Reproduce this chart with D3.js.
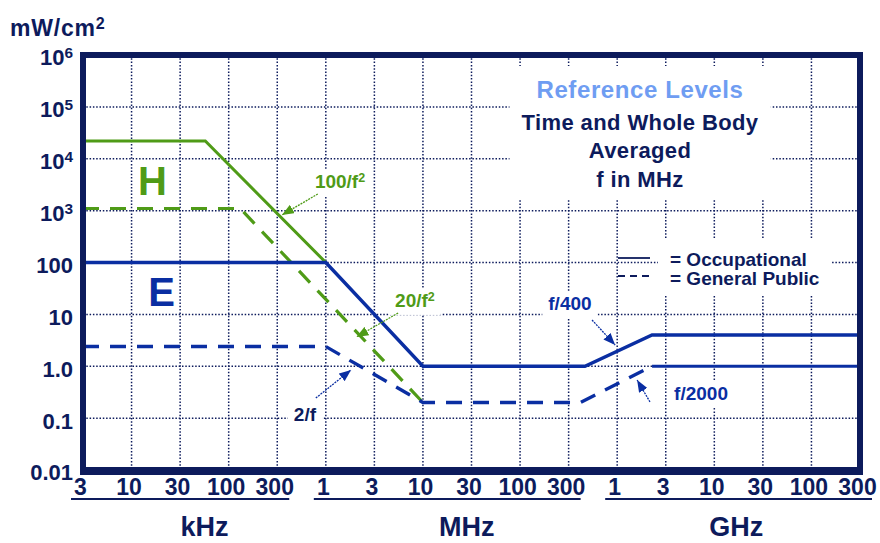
<!DOCTYPE html>
<html>
<head>
<meta charset="utf-8">
<script src="https://cdn.jsdelivr.net/npm/d3@7"></script>
<style>
  body { margin: 0; background: #fff; }
  svg { display: block; font-family: 'Liberation Sans', Arial, sans-serif; font-weight: bold; }
</style>
</head>
<body>
<div class="canvas"></div>
<script>
// printed frequency ticks (Hz) and their labels
const tickHz = [3e3, 1e4, 3e4, 1e5, 3e5, 1e6, 3e6, 1e7, 3e7, 1e8, 3e8, 1e9, 3e9, 1e10, 3e10, 1e11, 3e11];
const tickLabels = ['3', '10', '30', '100', '300', '1', '3', '10', '30', '100', '300', '1', '3', '10', '30', '100', '300'];
const groupNames = ['kHz', 'MHz', 'GHz'];
const groupFirst = [0, 5, 11];
const groupLast = [4, 10, 16];

// power density ticks (mW/cm2)
const yTicks = [0.01, 0.1, 1, 10, 100, 1e3, 1e4, 1e5, 1e6];
const yLabelBase = ['0.01', '0.1', '1.0', '10', '100', '10', '10', '10', '10'];
const yLabelSup = ['', '', '', '', '', '3', '4', '5', '6'];

// H field: occupational (solid) and general public (dashed)
const hOccHz = [3e3, 5.6e4, 1e6];
const hOccVal = [2.2e4, 2.2e4, 100];
const hPubHz = [3e3, 1.3e5, 1e7];
const hPubVal = [1.1e3, 1.1e3, 0.2];

// E field: occupational (solid) and general public (dashed, solid tail)
const eOccHz = [3e3, 1e6, 1e7, 4.5e8, 2.2e9, 3e11];
const eOccVal = [100, 100, 1, 1, 4, 4];
const ePubHz = [3e3, 1e6, 1e7, 4e8, 2.2e9];
const ePubVal = [2.4, 2.4, 0.2, 0.2, 1];
const ePubTailHz = [2.2e9, 3e11];
const ePubTailVal = [1, 1];

const navy = '#0d1b5c', blue = '#0a2ea2', green = '#4f9b17', sky = '#6f9df2';

const svg = d3.select('.canvas')
    .append('svg')
    .attr('width', 880)
    .attr('height', 543);

const margin = { top: 55, right: 20, bottom: 73, left: 83 };
const graphWidth = 880 - margin.left - margin.right;
const graphHeight = 543 - margin.top - margin.bottom;

const graph = svg.append('g')
    .attr('transform', `translate(${margin.left},${margin.top})`);

// ticks are spaced evenly, log inside each step
const xStep = d3.scaleLinear()
    .domain(tickHz.map(Math.log10))
    .range(tickHz.map((d, i) => i * graphWidth / (tickHz.length - 1)));
const x = f => xStep(Math.log10(f));
const y = d3.scaleLog()
    .domain([0.01, 1e6])
    .range([graphHeight, 0]);

const supText = (sel, base, sup, size = '0.66em') => {
    sel.text(null);
    sel.append('tspan').text(base);
    if (sup) sel.append('tspan').attr('dy', '-0.45em').attr('font-size', size).text(sup);
};

// grid
const gridLayer = graph.append('g');
gridLayer.selectAll('.vgrid')
    .data(tickHz.slice(1, -1))
    .enter().append('line')
    .attr('x1', d => x(d)).attr('x2', d => x(d))
    .attr('y1', 0).attr('y2', graphHeight);
gridLayer.selectAll('.hgrid')
    .data(yTicks.slice(1, -1))
    .enter().append('line')
    .attr('x1', 0).attr('x2', graphWidth)
    .attr('y1', d => y(d)).attr('y2', d => y(d));
gridLayer.selectAll('line')
    .attr('stroke', navy)
    .attr('stroke-width', 1.5)
    .attr('stroke-dasharray', '1.5,1.8');

const maskLayer = graph.append('g');
const lineLayer = graph.append('g');
const noteLayer = graph.append('g');

const addMask = (node, padX, padTop, padBottom) => {
    const b = node.getBBox();
    maskLayer.append('rect')
        .attr('x', b.x - padX).attr('y', b.y - padTop)
        .attr('width', b.width + 2 * padX).attr('height', b.height + padTop + padBottom)
        .attr('fill', '#fff');
};

// title block
const title = noteLayer.append('g').attr('text-anchor', 'middle');
title.append('text').attr('x', 557).attr('y', 43)
    .attr('font-size', 24).attr('fill', sky).attr('letter-spacing', 0.6)
    .text('Reference Levels');
[['Time and Whole Body', 75], ['Averaged', 103], ['f in MHz', 132]].forEach(([t, ty]) => {
    title.append('text').attr('x', 557).attr('y', ty)
        .attr('font-size', 22).attr('fill', navy).attr('letter-spacing', 0.4)
        .text(t);
});
addMask(title.node(), 12, 10, 8);

// legend
const legend = noteLayer.append('g');
legend.append('line').attr('x1', 535).attr('x2', 567).attr('y1', 203).attr('y2', 203)
    .attr('stroke', navy).attr('stroke-width', 1.8);
legend.append('line').attr('x1', 535).attr('x2', 567).attr('y1', 221).attr('y2', 221)
    .attr('stroke', navy).attr('stroke-width', 1.8).attr('stroke-dasharray', '7,5');
const legendText = legend.append('g').attr('font-size', 19).attr('fill', navy);
legendText.append('text').attr('x', 587).attr('y', 211).text('= Occupational');
legendText.append('text').attr('x', 587).attr('y', 230).text('= General Public');
addMask(legendText.node(), 12, 10, 6);

// limit lines
const line = d3.line().x(d => x(d[0])).y(d => y(d[1]));
const drawLine = (hz, val, colour, width, dash) => {
    lineLayer.append('path')
        .datum(d3.zip(hz, val))
        .attr('d', line)
        .attr('fill', 'none')
        .attr('stroke', colour)
        .attr('stroke-width', width)
        .attr('stroke-dasharray', dash);
};
drawLine(hOccHz, hOccVal, green, 3, null);
drawLine(hPubHz, hPubVal, green, 3.2, '16,11');
drawLine(ePubHz, ePubVal, blue, 3.4, '16,11');
drawLine(ePubTailHz, ePubTailVal, blue, 3.2, null);
drawLine(eOccHz, eOccVal, blue, 3.4, null);

// arrow heads
const defs = svg.append('defs');
[['arrowGreen', green], ['arrowBlue', blue]].forEach(([id, c]) => {
    defs.append('marker')
        .attr('id', id)
        .attr('viewBox', '0 0 10 8')
        .attr('refX', 10).attr('refY', 4)
        .attr('markerWidth', 12).attr('markerHeight', 10)
        .attr('markerUnits', 'userSpaceOnUse')
        .attr('orient', 'auto')
        .append('path').attr('d', 'M0,0 L10,4 L0,8 Z').attr('fill', c);
});

// annotations in data units: label at (f, v), arrow from (f1, v1) to (f2, v2)
const notes = [
    { text: '100/f', sup: '2', f: 1.38e6, v: 2.73e3, f1: 8.2e5, v1: 2.09e3, f2: 3.37e5, v2: 824, c: green, m: 'arrowGreen' },
    { text: '20/f', sup: '2', f: 8.2e6, v: 13.9, f1: 5.4e6, v1: 10.6, f2: 2.0e6, v2: 3.66, c: green, m: 'arrowGreen' },
    { text: '2/f', sup: '', f: 5.96e5, v: 0.088, f1: 7.8e5, v1: 0.244, f2: 1.77e6, v2: 0.85, c: navy, m: 'arrowBlue' },
    { text: 'f/400', sup: '', f: 3.1e8, v: 12.1, f1: 5.36e8, v1: 7.8, f2: 9.5e8, v2: 2.57, c: blue, m: 'arrowBlue' },
    { text: 'f/2000', sup: '', f: 7.2e9, v: 0.223, f1: 2.1e9, v1: 0.205, f2: 1.57e9, v2: 0.543, c: blue, m: 'arrowBlue' }
];
notes.forEach(n => {
    const t = noteLayer.append('text')
        .attr('x', x(n.f)).attr('y', y(n.v))
        .attr('text-anchor', 'middle')
        .attr('font-size', 19)
        .attr('fill', n.c);
    supText(t, n.text, n.sup);
    addMask(t.node(), 6, 2, 4);
    noteLayer.append('line')
        .attr('x1', x(n.f1)).attr('y1', y(n.v1))
        .attr('x2', x(n.f2)).attr('y2', y(n.v2))
        .attr('stroke', n.m === 'arrowGreen' ? green : blue)
        .attr('stroke-width', 1.3)
        .attr('stroke-dasharray', '2,1')
        .attr('marker-end', `url(#${n.m})`);
});

// big field letters
noteLayer.append('text').attr('x', x(1.6e4)).attr('y', y(2.0e3))
    .attr('text-anchor', 'middle').attr('font-size', 40).attr('fill', green).text('H');
noteLayer.append('text').attr('x', x(1.97e4)).attr('y', y(14.5))
    .attr('text-anchor', 'middle').attr('font-size', 40).attr('fill', blue).text('E');

// frame
graph.append('rect')
    .attr('width', graphWidth).attr('height', graphHeight)
    .attr('fill', 'none').attr('stroke', navy).attr('stroke-width', 6);
graph.append('line')
    .attr('x1', -3).attr('x2', graphWidth + 3)
    .attr('y1', graphHeight + 1).attr('y2', graphHeight + 1)
    .attr('stroke', navy).attr('stroke-width', 8);

// axes
const xAxis = d3.axisBottom(xStep)
    .tickValues(tickHz.map(Math.log10))
    .tickFormat((d, i) => tickLabels[i])
    .tickSize(0)
    .tickPadding(9);
const yAxis = d3.axisLeft(y)
    .tickValues(yTicks)
    .tickFormat('')
    .tickSize(0)
    .tickPadding(10);

const xAxisGroup = graph.append('g')
    .attr('transform', `translate(0, ${graphHeight})`)
    .call(xAxis);
const yAxisGroup = graph.append('g').call(yAxis);

[xAxisGroup, yAxisGroup].forEach(g => {
    g.select('.domain').remove();
    g.attr('font-family', null).attr('color', navy);
});
xAxisGroup.attr('font-size', 23);
xAxisGroup.selectAll('text').attr('dx', -3);
yAxisGroup.attr('font-size', 22);
yAxisGroup.selectAll('text')
    .attr('dy', '0.45em')
    .each(function (d, i) { supText(d3.select(this), yLabelBase[i], yLabelSup[i], '0.7em'); });

// unit groups under the frequency ticks
groupNames.forEach((name, i) => {
    graph.append('line')
        .attr('x1', x(tickHz[groupFirst[i]]) - 12)
        .attr('x2', x(tickHz[groupLast[i]]) + 12)
        .attr('y1', graphHeight + 29).attr('y2', graphHeight + 29)
        .attr('stroke', navy).attr('stroke-width', 2);
});
const groupAt = [2.5, 7.9, 13.45];
graph.selectAll('.group-label')
    .data(groupNames)
    .enter().append('text')
    .attr('x', (d, i) => groupAt[i] * graphWidth / (tickHz.length - 1))
    .attr('y', graphHeight + 66)
    .attr('text-anchor', 'middle')
    .attr('font-size', 27)
    .attr('fill', navy)
    .text(d => d);

// unit
const unit = svg.append('text')
    .attr('x', 10).attr('y', 36)
    .attr('font-size', 23)
    .attr('letter-spacing', 0.8)
    .attr('fill', navy);
supText(unit, 'mW/cm', '2', '0.7em');
</script>
</body>
</html>
